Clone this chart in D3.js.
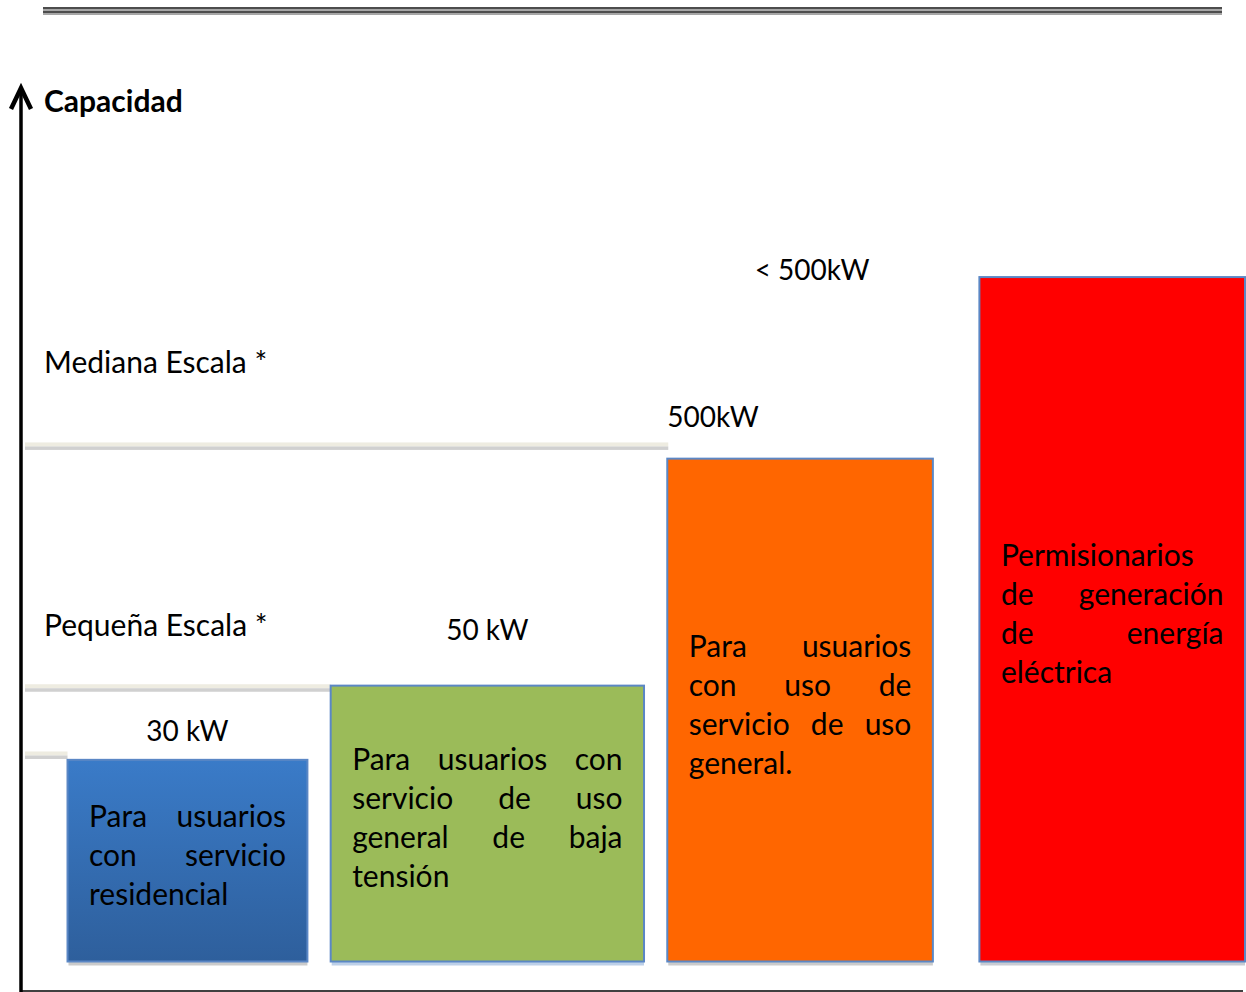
<!DOCTYPE html>
<html>
<head>
<meta charset="utf-8">
<script src="https://cdn.jsdelivr.net/npm/d3@7"></script>
<style>
  html, body { margin: 0; padding: 0; background: #fff; }
  svg { display: block; }
</style>
</head>
<body>
<svg id="chart" width="1246" height="992"></svg>
<script>
// ---------- data ----------
const categories = [
  "Para usuarios con servicio residencial",
  "Para usuarios con servicio de uso general de baja tensión",
  "Para usuarios con uso de servicio de uso general.",
  "Permisionarios de generación de energía eléctrica"
];
// wrapped lines as they appear inside each bar
const barLines = [
  [["Para", "usuarios"], ["con", "servicio"], ["residencial"]],
  [["Para", "usuarios", "con"], ["servicio", "de", "uso"], ["general", "de", "baja"], ["tensión"]],
  [["Para", "usuarios"], ["con", "uso", "de"], ["servicio", "de", "uso"], ["general."]],
  [["Permisionarios"], ["de", "generación"], ["de", "energía"], ["eléctrica"]]
];
// relative capacity (bar top) on a 0–100 conceptual scale
const barValues = [23.1, 31.6, 57.6, 78.4];
// horizontal extent of each bar on a 0–100 scale
const barStart = [3.8, 25.3, 52.8, 78.3];
const barEnd   = [23.4, 50.9, 74.5, 100];
const barColors = ["#3a7bc8", "#9bbb59", "#ff6600", "#ff0000"];
const barColorsDark = ["#2e5f9c", "#9bbb59", "#ff6600", "#ff0000"];
const shadowColors = ["#cbcbcb", "#bdd0e8", "#cbcbcb", "#c9ccd3"];

// capacity thresholds (step lines) on the same 0–100 scale
const thresholdLabels = ["30 kW", "50 kW", "500kW"];
const thresholdValues = [23.6, 31.3, 59.0];
const thresholdEnd = [3.8, 25.3, 52.8];
const topLabel = "< 500kW";
const scaleLabels = ["Pequeña Escala *", "Mediana Escala *"];
const axisTitle = "Capacidad";

// ---------- layout ----------
const svg = d3.select("#chart");
const x = d3.scaleLinear().domain([0, 100]).range([21, 1245]);
const y = d3.scaleLinear().domain([0, 100]).range([961.5, 88.5]);
const FONT = "Lato, 'Open Sans', sans-serif";
const numSize = 28, labelSize = 30, barTextSize = 30, lineH = 39;

// top double rule
svg.append("rect").attr("x", 43).attr("y", 7).attr("width", 1179).attr("height", 8).attr("fill", "#a6a6a6");
svg.append("rect").attr("x", 43).attr("y", 7).attr("width", 1179).attr("height", 2).attr("fill", "#4d4d4d");
svg.append("rect").attr("x", 43).attr("y", 11).attr("width", 1179).attr("height", 2).attr("fill", "#4d4d4d");

// step threshold lines
thresholdValues.forEach((v, i) => {
  const yy = y(v);
  const w = x(thresholdEnd[i]) - x(0) - 4 + (i === 2 ? 1 : 0);
  svg.append("rect").attr("x", x(0) + 4).attr("y", yy - 4).attr("width", w).attr("height", 4).attr("fill", "#eeece1");
  svg.append("rect").attr("x", x(0) + 4).attr("y", yy).attr("width", w).attr("height", 3.5).attr("fill", "#d0d0d0");
});

// gradients
const defs = svg.append("defs");
barColors.forEach((c, i) => {
  const g = defs.append("linearGradient").attr("id", "grad" + i)
    .attr("x1", 0).attr("y1", 0).attr("x2", 0).attr("y2", 1);
  g.append("stop").attr("offset", "0%").attr("stop-color", c);
  g.append("stop").attr("offset", "100%").attr("stop-color", barColorsDark[i]);
});

// bars
const bars = svg.append("g");
categories.forEach((cat, i) => {
  const x0 = x(barStart[i]), x1 = x(barEnd[i]);
  const y0 = y(barValues[i]), y1 = y(0);
  bars.append("rect").attr("x", x0 + 1).attr("y", y1 - 2).attr("width", x1 - x0 - 1).attr("height", 6)
    .attr("fill", shadowColors[i]);
  bars.append("rect").attr("x", x0).attr("y", y0).attr("width", x1 - x0).attr("height", y1 - y0)
    .attr("fill", `url(#grad${i})`).attr("stroke", "#5b87c5").attr("stroke-width", 2);

  // justified text, vertically centered
  const lines = barLines[i];
  const cx0 = x0 + 21.5, cx1 = x1 - 21.5;
  const cy = (y0 + y1) / 2;
  const g = bars.append("g").attr("font-family", FONT).attr("font-size", barTextSize).attr("fill", "#000");
  lines.forEach((words, li) => {
    const by = cy - (lines.length - 1) / 2 * lineH + li * lineH + 5;
    const isLast = li === lines.length - 1;
    const nodes = words.map(w => g.append("text").attr("y", by).text(w));
    const widths = nodes.map(n => n.node().getComputedTextLength());
    let gap = barTextSize * 0.25;
    if (!(isLast || words.length === 1)) gap = (cx1 - cx0 - d3.sum(widths)) / (words.length - 1);
    let cx = cx0;
    nodes.forEach((n, k) => { n.attr("x", cx); cx += widths[k] + gap; });
  });
});

// threshold labels
const lab = svg.append("g").attr("font-family", FONT).attr("font-size", numSize).attr("fill", "#000");
lab.append("text").attr("x", (x(barStart[0]) + x(barEnd[0])) / 2).attr("y", y(thresholdValues[0]) - 14)
  .attr("text-anchor", "middle").text(thresholdLabels[0]);
lab.append("text").attr("x", (x(barStart[1]) + x(barEnd[1])) / 2).attr("y", y(thresholdValues[1]) - 48)
  .attr("text-anchor", "middle").text(thresholdLabels[1]);
lab.append("text").attr("x", x(barStart[2])).attr("y", y(thresholdValues[2]) - 19)
  .attr("text-anchor", "start").text(thresholdLabels[2]);
lab.append("text").attr("x", (x(barStart[2]) + x(barEnd[2])) / 2 + 12).attr("y", y(barValues[3]) + 3)
  .attr("text-anchor", "middle").text(topLabel);
lab.append("text").attr("x", 44).attr("y", y(thresholdValues[1]) - 52).attr("font-size", labelSize).text(scaleLabels[0]);
lab.append("text").attr("x", 44).attr("y", y(thresholdValues[2]) - 73).attr("font-size", labelSize).text(scaleLabels[1]);
lab.append("text").attr("x", 44).attr("y", 112).attr("font-size", labelSize).attr("font-weight", "bold").text(axisTitle);

// axes
svg.append("line").attr("x1", 20).attr("y1", 991).attr("x2", 1243).attr("y2", 991)
  .attr("stroke", "#404040").attr("stroke-width", 2);
svg.append("line").attr("x1", x(0)).attr("y1", 90).attr("x2", x(0)).attr("y2", 992)
  .attr("stroke", "#000").attr("stroke-width", 3.5);
svg.append("path").attr("d", `M${x(0) - 10},109 L${x(0)},88 L${x(0) + 10},109`)
  .attr("fill", "none").attr("stroke", "#000").attr("stroke-width", 4.5).attr("stroke-linejoin", "miter");
</script>
</body>
</html>
